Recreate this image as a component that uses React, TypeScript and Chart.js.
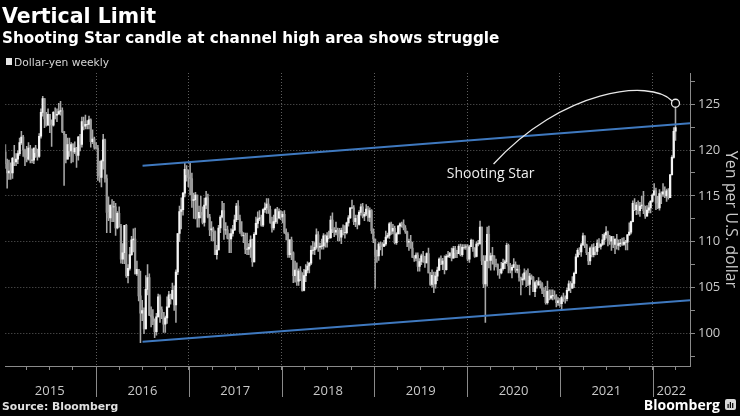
import React, { useEffect, useRef } from 'react';
import { Chart, registerables } from 'chart.js';

Chart.register(...registerables);

// ---------- DATA (weekly USD/JPY, week ending Friday) ----------
const firstWeekEnding = Date.UTC(2015, 0, 9);
const openingPrice = 119.8;

const close2015 = [118.5,117.5,117.7,117.5,119.1,118.7,119.0,119.6,120.8,121.4,120.0,119.2,119.0,120.2,118.9,118.9,120.2,119.7,119.3,121.5,124.1,125.6,123.4,122.7,123.9,122.8,122.7,124.1,123.8,123.9,124.2,124.3,122.0,121.7,119.0,120.6,119.9,120.6,119.8,120.2,119.4,121.4,120.6,123.1,122.6,122.8,122.8,123.3,120.9,121.2,120.3,120.2];
const high2015 = [120.6,119.0,118.9,118.6,119.2,120.5,119.6,119.9,121.3,122.05,121.6,120.1,120.4,120.8,120.5,120.1,120.2,120.5,120.1,121.8,124.5,125.86,125.3,124.1,124.5,123.7,123.3,124.2,124.6,124.5,125.1,125.3,124.6,122.0,121.7,121.3,121.3,120.8,120.7,120.9,120.3,121.5,121.7,123.6,123.6,123.8,123.2,123.7,123.4,122.2,121.4,120.8];
const low2015 = [118.0,115.85,116.8,116.8,116.9,118.3,118.3,118.5,119.4,120.6,119.3,118.3,118.7,118.9,118.6,118.6,118.5,119.2,118.9,119.2,121.3,123.7,122.45,122.6,122.7,121.9,120.4,122.6,123.4,123.1,123.9,123.8,121.9,116.15,118.6,119.2,119.3,118.6,118.7,119.6,118.1,118.9,119.9,120.3,122.2,122.3,122.3,122.3,120.3,120.7,120.1,120.1];

const close2016 = [117.2,117.0,118.8,121.1,116.9,113.2,112.6,114.0,113.8,113.8,111.5,113.1,111.7,108.1,108.8,111.8,106.3,107.1,108.6,110.2,110.3,106.5,107.0,104.1,102.2,102.5,100.5,104.8,106.1,102.0,101.8,101.3,100.2,101.8,104.0,102.6,102.3,101.0,101.7,102.9,104.2,103.8,104.7,103.1,106.7,110.9,113.3,113.5,115.3,117.9,117.3,117.0];
const high2016 = [120.5,118.8,118.9,121.7,121.2,117.3,114.9,114.0,114.6,114.4,114.2,113.3,113.8,111.9,109.8,109.9,111.9,107.5,109.4,110.6,111.4,111.5,107.9,107.0,106.8,103.6,102.8,106.3,107.5,106.5,102.9,102.6,101.6,102.2,104.3,104.2,102.9,102.3,101.9,104.0,104.6,104.3,105.5,105.2,106.95,110.9,113.9,114.8,115.4,118.66,118.3,117.8];
const low2016 = [116.7,116.5,115.97,117.9,116.5,110.98,112.3,111.0,112.2,112.2,110.7,111.4,111.6,107.65,107.6,107.6,106.1,105.5,106.9,108.5,108.9,106.5,106.3,103.55,99.0,101.4,99.98,100.7,104.2,101.95,100.7,100.95,99.55,99.8,101.8,101.2,101.6,100.1,100.1,101.1,102.8,103.2,103.7,102.5,101.2,106.4,110.0,111.4,112.9,114.9,116.6,116.0];

const close2017 = [116.9,114.5,114.6,115.1,112.6,113.2,112.9,112.1,114.0,114.8,112.7,111.3,111.4,111.1,108.6,109.1,111.5,112.7,113.4,111.3,111.3,110.4,110.3,110.9,111.3,112.4,113.9,112.5,111.1,110.7,110.7,109.2,109.2,109.4,110.2,107.8,110.8,112.0,112.5,112.6,111.8,113.5,113.7,114.1,113.5,112.1,111.5,112.2,113.5,112.6,113.3,112.7];
const high2017 = [118.6,117.5,115.3,115.4,115.1,113.9,114.95,113.8,114.75,115.5,115.2,113.0,112.2,111.6,111.2,109.6,111.8,112.85,114.4,114.2,112.1,111.7,110.9,111.4,111.8,112.9,114.2,114.5,112.9,112.2,111.0,110.95,110.95,109.8,110.65,110.3,111.0,112.7,113.25,113.4,112.9,113.6,114.25,114.7,114.7,113.9,112.7,112.9,113.6,113.75,113.6,113.4];
const low2017 = [115.1,113.75,112.55,112.5,111.6,111.6,112.6,111.95,111.7,113.6,112.6,110.65,110.1,110.1,108.7,108.1,109.1,111.0,112.6,110.25,110.8,110.3,108.8,108.8,110.6,111.2,112.2,112.4,110.9,110.6,109.9,108.7,108.6,108.6,108.3,107.3,107.9,110.8,111.5,112.3,111.7,111.65,113.2,113.1,113.1,112.0,111.05,111.3,112.0,112.0,112.5,112.4];

const close2018 = [113.0,111.05,110.8,108.6,110.2,108.8,106.3,106.9,105.7,106.8,105.95,104.7,106.3,106.9,107.35,107.65,109.05,109.1,109.4,110.75,109.4,109.5,109.55,110.65,109.95,110.65,110.45,112.35,111.4,111.05,111.25,110.85,110.5,111.25,111.0,111.0,112.05,112.6,113.7,113.7,112.2,112.55,111.9,113.2,113.8,112.8,113.0,113.55,112.65,113.4,111.2,110.3,108.5];
const high2018 = [113.3,113.4,111.4,111.0,110.2,110.5,108.9,107.9,107.7,107.05,107.3,106.65,107.0,107.5,107.8,107.75,109.55,110.05,109.9,111.4,111.1,109.85,110.3,110.9,110.75,111.0,111.15,112.8,113.15,111.55,112.15,111.5,111.45,111.5,111.85,111.75,112.15,112.85,113.7,114.55,113.95,112.9,112.9,113.4,114.1,114.2,113.2,114.05,113.85,113.7,113.5,111.4,110.3];
const low2018 = [112.05,110.9,110.2,108.3,108.3,108.05,105.55,105.6,105.25,105.25,105.75,104.6,104.65,105.65,106.6,106.6,107.5,108.65,108.6,109.2,108.95,108.1,109.2,109.2,109.4,109.4,110.3,110.35,111.0,110.55,110.75,110.1,110.1,109.8,110.75,110.4,110.85,111.7,112.55,113.6,111.85,111.65,111.4,111.8,112.9,112.6,112.3,112.85,112.25,112.2,110.9,109.9,104.9];

const close2019 = [108.45,109.75,109.55,109.5,109.75,110.5,110.7,111.95,111.15,111.45,109.9,110.85,111.7,111.95,111.9,111.5,111.1,109.95,110.05,109.3,108.3,108.2,108.55,107.3,107.85,108.45,107.9,107.7,108.7,106.6,105.35,106.35,105.4,106.25,106.9,108.1,107.55,107.9,106.95,108.4,108.45,108.7,108.2,109.25,108.8,108.7,109.5,108.6,109.4,109.4,109.45,108.1];
const high2019 = [109.1,109.9,109.95,109.9,110.15,111.15,110.95,112.1,112.15,111.9,111.7,111.0,111.8,112.05,112.15,112.4,111.75,111.15,110.3,110.7,109.95,108.5,108.8,108.8,108.15,108.65,108.95,108.4,108.8,109.3,106.65,106.95,106.7,106.7,107.25,108.25,108.45,108.2,108.45,108.6,108.95,108.85,109.3,109.5,109.5,109.05,109.7,109.75,109.7,109.7,109.7,109.7];
const low2019 = [107.75,107.95,109.1,108.5,109.5,109.6,110.4,110.35,110.8,110.85,109.75,109.7,110.85,110.85,111.6,111.3,110.9,109.45,109.05,109.3,108.3,107.85,107.9,106.8,106.8,107.5,107.75,107.2,107.75,106.6,105.25,105.05,104.45,104.95,105.75,106.85,107.5,106.95,106.5,106.9,108.3,108.25,107.9,108.2,108.25,108.25,108.7,108.45,108.4,109.2,109.15,107.9];

const close2020 = [109.45,110.15,109.25,108.4,109.75,109.8,111.6,107.9,105.4,107.9,110.8,107.95,108.45,108.45,107.55,107.5,106.9,106.6,107.05,107.65,107.8,109.6,107.35,106.9,107.2,107.5,106.9,107.0,106.1,105.85,105.95,106.6,105.8,105.35,106.25,106.15,104.55,105.55,105.3,105.65,105.4,104.7,104.65,103.35,104.6,103.85,104.1,104.15,104.0,103.35,103.55,103.25];
const high2020 = [109.6,110.3,110.2,109.35,110.0,110.15,112.25,111.6,108.5,108.5,111.6,111.7,108.75,109.4,108.2,108.1,107.6,107.0,107.75,108.1,108.0,109.85,109.75,107.65,107.45,108.15,107.8,107.45,107.45,106.15,106.5,107.05,106.85,107.05,106.55,106.4,106.2,105.7,105.8,106.1,105.75,105.55,105.0,105.15,105.7,104.75,104.75,104.75,104.65,104.25,103.9,103.8];
const low2020 = [107.75,109.45,108.95,108.3,108.35,109.55,109.7,107.5,105.0,101.2,105.15,107.15,106.9,107.55,106.9,107.25,106.35,106.0,106.5,106.9,107.05,107.6,106.6,106.6,106.05,107.2,106.65,106.6,105.7,104.2,105.3,105.8,105.1,105.2,104.2,105.9,104.65,104.0,104.95,105.25,104.95,104.35,104.0,103.2,103.2,103.65,103.7,103.65,103.75,102.9,103.05,102.95];

const close2021 = [103.95,103.85,103.8,104.7,105.4,104.95,105.45,106.55,108.35,109.05,108.9,109.65,110.65,109.65,108.8,107.9,109.3,108.6,109.35,108.95,109.85,109.5,109.7,110.2,110.75,111.05,110.15,110.05,110.55,109.7,110.25,109.6,109.8,109.85,109.7,109.95,109.95,110.75,111.05,112.2,114.2,113.5,114.0,113.4,113.9,114.0,113.4,112.8,113.45,113.7,114.4,115.1];
const high2021 = [104.1,104.4,104.1,104.95,105.75,105.65,106.2,106.7,108.65,109.25,109.35,109.85,110.95,110.55,109.75,108.85,109.45,109.7,109.8,109.5,110.2,110.35,109.8,110.8,110.95,111.65,111.15,110.7,110.6,110.6,110.35,110.8,110.2,110.25,110.4,110.45,110.15,110.8,112.05,112.25,114.45,114.7,114.3,114.45,114.3,114.95,115.5,113.9,113.95,114.25,114.5,115.2];
const low2021 = [102.6,103.5,103.3,103.55,104.65,104.45,104.9,105.0,106.55,108.35,108.6,108.4,109.6,109.35,108.6,107.5,107.5,108.35,108.35,108.55,108.6,109.35,109.2,109.6,109.7,110.4,109.55,109.7,109.05,109.35,108.7,109.2,109.1,109.45,109.6,109.6,109.1,109.1,110.7,110.85,112.15,113.4,112.95,113.0,112.75,113.6,113.05,112.55,112.95,113.15,113.15,114.35];

const close2022 = [115.55,114.2,113.7,115.25,115.2,115.45,115.0,115.55,114.8,117.3,119.2,122.05,122.45];
const high2022 = [116.35,115.85,114.95,115.7,115.45,116.35,116.0,115.75,115.8,117.35,119.4,122.45,125.1];
const low2022 = [115.05,113.5,113.6,113.45,114.15,114.95,114.8,114.4,114.65,114.8,117.25,119.1,121.05];

const yearLabels = ['2015', '2016', '2017', '2018', '2019', '2020', '2021', '2022'];
const yTickValues = [97.5, 100, 102.5, 105, 107.5, 110, 112.5, 115, 117.5, 120, 122.5, 125, 127.5];

// channel lines and annotation, in data units (fractional year, yen)
const upperChannel = [{ x: 2016.501, y: 118.29 }, { x: 2022.403, y: 122.91 }];
const lowerChannel = [{ x: 2016.501, y: 99.1 }, { x: 2022.403, y: 103.61 }];
const annotationText = 'Shooting Star';
const annotationAt = { x: 2020.253, y: 117.41 };
const annotationCurve = [
  { x: 2020.285, y: 118.48 },
  { x: 2021.012, y: 126.55 },
  { x: 2021.975, y: 127.85 },
  { x: 2022.211, y: 125.35 },
];

const X_MIN = 2015.021;
const X_MAX = 2022.403;
const Y_MIN = 96.45;
const Y_MAX = 128.4;

const TITLE = 'Vertical Limit';
const SUBTITLE = 'Shooting Star candle at channel high area shows struggle';
const LEGEND = 'Dollar-yen weekly';
const SOURCE = 'Source: Bloomberg';
const Y_TITLE = 'Yen per U.S. dollar';

// ---------- helpers ----------
const closes = [...close2015, ...close2016, ...close2017, ...close2018, ...close2019, ...close2020, ...close2021, ...close2022];
const highsRaw = [...high2015, ...high2016, ...high2017, ...high2018, ...high2019, ...high2020, ...high2021, ...high2022];
const lowsRaw = [...low2015, ...low2016, ...low2017, ...low2018, ...low2019, ...low2020, ...low2021, ...low2022];

function yearFraction(ms: number): number {
  const y = new Date(ms).getUTCFullYear();
  const s = Date.UTC(y, 0, 1);
  const e = Date.UTC(y + 1, 0, 1);
  return y + (ms - s) / (e - s);
}

const weekX = closes.map((_, i) => yearFraction(firstWeekEnding + i * 7 * 86400000));
const opens = closes.map((_, i) => (i === 0 ? openingPrice : closes[i - 1]));
const highs = highsRaw.map((h, i) => Math.max(h, opens[i], closes[i]));
const lows = lowsRaw.map((l, i) => Math.min(l, opens[i], closes[i]));

const FONT = '"Open Sans", "Noto Sans", sans-serif';
const TITLE_FONT = '"DejaVu Sans", sans-serif';
const AXIS_GRAY = '#8a8a8a';
const GRID_GRAY = '#5e5e5e';
const TEXT_GRAY = '#c9c9c9';

function buildXTicks() {
  const t: any[] = [];
  yearLabels.forEach((ys) => {
    const y = Number(ys);
    [0, 0.25, 0.5, 0.75].forEach((q) => {
      const v = y + q;
      if (v > X_MIN && v < X_MAX) t.push({ value: v, isYear: q === 0, text: '' });
    });
  });
  yearLabels.forEach((ys) => {
    const y = Number(ys);
    const mid = y + 0.5 <= X_MAX ? y + 0.5 : (y + X_MAX) / 2;
    const existing = t.find((k) => Math.abs(k.value - mid) < 1e-9);
    if (existing) existing.text = ys;
    else t.push({ value: mid, isYear: false, labelOnly: true, text: ys });
  });
  t.sort((a, b) => a.value - b.value);
  return t;
}

const decorPlugin = {
  id: 'decor',
  beforeDraw(chart: any) {
    const { ctx, width, height } = chart;
    ctx.save();
    ctx.fillStyle = '#000';
    ctx.fillRect(0, 0, width, height);
    ctx.restore();
  },
  afterDatasetsDraw(chart: any) {
    const { ctx, scales } = chart;
    const xs = scales.x;
    const ys = scales.y;
    const p = annotationCurve.map((pt) => [xs.getPixelForValue(pt.x), ys.getPixelForValue(pt.y)]);
    ctx.save();
    ctx.strokeStyle = '#e8e8e8';
    ctx.lineWidth = 1.3;
    ctx.beginPath();
    ctx.moveTo(p[0][0], p[0][1]);
    ctx.bezierCurveTo(p[1][0], p[1][1], p[2][0], p[2][1], p[3][0], p[3][1]);
    ctx.stroke();
    ctx.fillStyle = '#eeeeee';
    ctx.font = `14px ${FONT}`;
    ctx.textAlign = 'center';
    ctx.textBaseline = 'middle';
    ctx.fillText(annotationText, xs.getPixelForValue(annotationAt.x), ys.getPixelForValue(annotationAt.y));
    ctx.restore();
  },
  afterDraw(chart: any) {
    const { ctx, scales, chartArea } = chart;
    const xs = scales.x;
    ctx.save();
    // long year dividers below the axis
    ctx.strokeStyle = AXIS_GRAY;
    ctx.lineWidth = 1;
    yearLabels.forEach((ys) => {
      const v = Number(ys);
      if (v <= X_MIN || v >= X_MAX) return;
      const px = Math.round(xs.getPixelForValue(v)) + 0.5;
      ctx.beginPath();
      ctx.moveTo(px, chartArea.bottom);
      ctx.lineTo(px, chartArea.bottom + 31);
      ctx.stroke();
    });
    // titles
    ctx.fillStyle = '#ffffff';
    ctx.textAlign = 'left';
    ctx.textBaseline = 'alphabetic';
    ctx.font = `bold 20.5px ${TITLE_FONT}`;
    ctx.fillText(TITLE, 2, 22.5);
    ctx.font = `bold 15.2px ${TITLE_FONT}`;
    ctx.fillText(SUBTITLE, 2, 42.5);
    // legend
    ctx.fillStyle = '#e6e6e6';
    ctx.fillRect(6, 58, 6, 7);
    ctx.fillStyle = '#d6d6d6';
    ctx.font = `10.7px ${TITLE_FONT}`;
    ctx.fillText(LEGEND, 14, 65.5);
    // source
    ctx.fillStyle = '#e0e0e0';
    ctx.font = `bold 10.8px ${TITLE_FONT}`;
    ctx.fillText(SOURCE, 2, 409.5);
    // Bloomberg wordmark
    ctx.fillStyle = '#ffffff';
    ctx.font = `bold 14px ${FONT}`;
    ctx.textAlign = 'right';
    ctx.fillText('Bloomberg', 720, 410);
    ctx.fillStyle = '#d8d8d8';
    ctx.beginPath();
    ctx.roundRect(725, 399, 11, 11, 2);
    ctx.fill();
    ctx.fillStyle = '#000';
    ctx.fillRect(727.5, 404, 1.2, 4);
    ctx.fillRect(729.8, 402, 1.2, 6);
    ctx.fillRect(732.1, 403, 1.2, 5);
    ctx.restore();
  },
};

export default function App() {
  const ref = useRef<HTMLCanvasElement | null>(null);

  useEffect(() => {
    document.body.style.margin = '0';
    document.body.style.background = '#000';
    if (!ref.current) return;

    const wickData = weekX.map((x, i) => ({ x, y: [lows[i], highs[i]] }));
    const bodyData = weekX.map((x, i) => ({ x, y: [opens[i], closes[i]] }));
    const bodyColors = closes.map((c, i) => (c >= opens[i] ? '#f4f4f4' : '#9a9a9a'));
    const last = closes.length - 1;
    const xTicks = buildXTicks();

    const chart = new Chart(ref.current, {
      type: 'bar',
      data: {
        datasets: [
          {
            type: 'line',
            data: [{ x: weekX[last], y: highs[last] }],
            showLine: false,
            pointRadius: 4,
            pointBorderWidth: 1.3,
            pointBorderColor: '#e8e8e8',
            pointBackgroundColor: '#000',
            order: 0,
          } as any,
          {
            type: 'line',
            data: upperChannel,
            borderColor: '#3f79bf',
            borderWidth: 2,
            pointRadius: 0,
            order: 1,
          } as any,
          {
            type: 'line',
            data: lowerChannel,
            borderColor: '#3f79bf',
            borderWidth: 2,
            pointRadius: 0,
            order: 1,
          } as any,
          {
            type: 'bar',
            data: bodyData,
            backgroundColor: bodyColors,
            borderWidth: 0,
            barThickness: 1.6,
            grouped: false,
            order: 2,
          } as any,
          {
            type: 'bar',
            data: wickData,
            backgroundColor: '#a8a8a8',
            borderWidth: 0,
            barThickness: 0.9,
            grouped: false,
            order: 3,
          } as any,
        ],
      },
      options: {
        responsive: false,
        animation: false,
        devicePixelRatio: 1,
        layout: { padding: { top: 73, left: 0, right: 0, bottom: 0 } },
        plugins: { legend: { display: false }, tooltip: { enabled: false }, title: { display: false } },
        scales: {
          x: {
            type: 'linear',
            position: 'bottom',
            min: X_MIN,
            max: X_MAX,
            offset: false,
            afterBuildTicks: (scale: any) => {
              scale.ticks = xTicks.map((t) => ({ ...t }));
            },
            afterFit: (scale: any) => {
              scale.height = 50;
            },
            ticks: {
              autoSkip: false,
              maxRotation: 0,
              minRotation: 0,
              padding: 13,
              color: TEXT_GRAY,
              font: { family: FONT, size: 13 },
              callback: (_v: any, i: number, t: any[]) => t[i].text || '',
            },
            grid: {
              offset: false,
              drawOnChartArea: true,
              tickLength: 4,
              lineWidth: 1,
              color: (c: any) => (c.tick && c.tick.isYear ? GRID_GRAY : 'rgba(0,0,0,0)'),
              tickColor: (c: any) => (c.tick && !c.tick.labelOnly ? AXIS_GRAY : 'rgba(0,0,0,0)'),
            },
            border: { display: true, color: AXIS_GRAY, width: 1, dash: [1, 2] },
          },
          y: {
            type: 'linear',
            position: 'right',
            min: Y_MIN,
            max: Y_MAX,
            afterBuildTicks: (scale: any) => {
              scale.ticks = yTickValues.map((v) => ({ value: v }));
            },
            afterFit: (scale: any) => {
              scale.width = 50;
            },
            ticks: {
              padding: 3,
              color: TEXT_GRAY,
              font: { family: FONT, size: 13 },
              callback: (v: any) => (Number(v) % 5 === 0 ? String(v) : ''),
            },
            grid: {
              tickLength: 5,
              lineWidth: 1,
              color: (c: any) => (c.tick && c.tick.value % 5 === 0 ? GRID_GRAY : 'rgba(0,0,0,0)'),
              tickColor: AXIS_GRAY,
            },
            border: { display: true, color: AXIS_GRAY, width: 1, dash: [1, 2] },
            title: {
              display: true,
              text: Y_TITLE,
              color: TEXT_GRAY,
              font: { family: FONT, size: 16 },
              padding: 0,
            },
          },
        },
      } as any,
      plugins: [decorPlugin],
    });

    return () => chart.destroy();
  }, []);

  return (
    <div style={{ width: 740, height: 416, background: '#000' }}>
      <canvas ref={ref} width={740} height={416} style={{ display: 'block' }} />
    </div>
  );
}
